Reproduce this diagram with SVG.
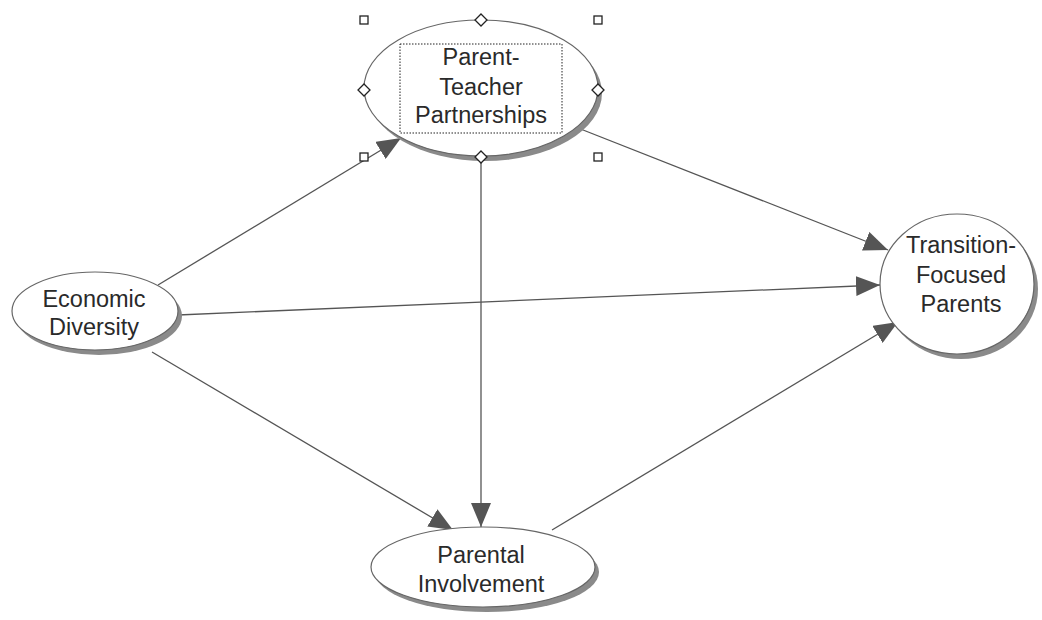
<svg xmlns="http://www.w3.org/2000/svg" width="1042" height="620" viewBox="0 0 1042 620">
<defs>
<marker id="ah" markerUnits="userSpaceOnUse" markerWidth="24" markerHeight="20" refX="24" refY="10" orient="auto"><path d="M0,0 L24,10 L0,20 Z" fill="#555"/></marker>
<style>
.shadow{fill:#8a8a8a}
.node{fill:#fff;stroke:#666;stroke-width:1.2}
.lbl{font-family:"Liberation Sans",Arial,sans-serif;font-size:23.5px;fill:#2a2a2a;text-anchor:middle}
.conn{stroke:#555;stroke-width:1.3;fill:none;marker-end:url(#ah)}
.hs{fill:#fff;stroke:#222;stroke-width:1.3}
</style>
</defs>
<rect width="1042" height="620" fill="#fff"/>
<g id="connectors">
<line class="conn" x1="158" y1="285" x2="401" y2="138"/>
<line class="conn" x1="178" y1="315" x2="880" y2="285"/>
<line class="conn" x1="152" y1="352" x2="453" y2="530"/>
<line class="conn" x1="481" y1="160" x2="481" y2="527"/>
<line class="conn" x1="578" y1="128" x2="888" y2="250"/>
<line class="conn" x1="552" y1="530" x2="898" y2="322"/>
</g>
<g id="node-ptp">
<ellipse class="shadow" cx="485" cy="93" rx="117" ry="68"/>
<ellipse class="node" cx="481" cy="88" rx="117" ry="68"/>
<text class="lbl" x="481" y="65">Parent-</text>
<text class="lbl" x="481" y="95">Teacher</text>
<text class="lbl" x="481" y="123">Partnerships</text>
<rect x="400" y="44" width="162" height="89" fill="none" stroke="#222" stroke-width="1" stroke-dasharray="1.5,1.5"/>
<g id="handles">
<rect class="hs" x="360" y="16" width="8" height="8"/>
<rect class="hs" x="594" y="16" width="8" height="8"/>
<rect class="hs" x="360" y="153" width="8" height="8"/>
<rect class="hs" x="594" y="153" width="8" height="8"/>
<path class="hs" d="M481,14 l6,6 l-6,6 l-6,-6 Z"/>
<path class="hs" d="M481,151 l6,6 l-6,6 l-6,-6 Z"/>
<path class="hs" d="M364,84 l6,6 l-6,6 l-6,-6 Z"/>
<path class="hs" d="M598,84 l6,6 l-6,6 l-6,-6 Z"/>
</g>
</g>
<g id="node-econ">
<ellipse class="shadow" cx="99" cy="316" rx="83" ry="39"/>
<ellipse class="node" cx="95" cy="311" rx="83" ry="39"/>
<text class="lbl" x="94" y="307">Economic</text>
<text class="lbl" x="94" y="335">Diversity</text>
</g>
<g id="node-tfp">
<ellipse class="shadow" cx="961" cy="289" rx="77" ry="70"/>
<ellipse class="node" cx="957" cy="284" rx="77" ry="70"/>
<text class="lbl" x="961" y="253">Transition-</text>
<text class="lbl" x="961" y="283">Focused</text>
<text class="lbl" x="961" y="312">Parents</text>
</g>
<g id="node-pi">
<ellipse class="shadow" cx="487" cy="572" rx="112" ry="40"/>
<ellipse class="node" cx="483" cy="567" rx="112" ry="40"/>
<text class="lbl" x="481" y="563">Parental</text>
<text class="lbl" x="481" y="592">Involvement</text>
</g>
</svg>
